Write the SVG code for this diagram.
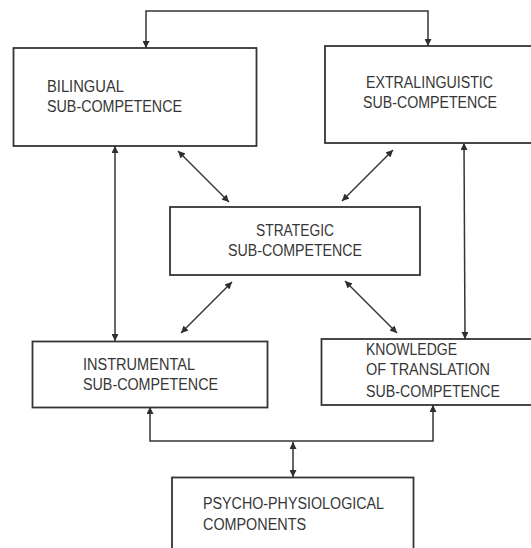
<svg xmlns="http://www.w3.org/2000/svg" width="531" height="548" viewBox="0 0 531 548">
  <style>
    .box { fill: #ffffff; stroke: #353535; stroke-width: 1.8; }
    .lbl { font-family: "Liberation Sans", Arial, sans-serif; font-size: 16px; fill: #363636; }
    .wire { fill: none; stroke: #353535; stroke-width: 1.5; }
  </style>
  <defs>
    <marker id="tip" viewBox="0 0 10 10" refX="10" refY="5" markerWidth="8" markerHeight="7" markerUnits="userSpaceOnUse" orient="auto-start-reverse">
      <path d="M0,0 L10,5 L0,10 z" fill="#2e2e2e"/>
    </marker>
  </defs>
  <rect width="531" height="548" fill="#ffffff"/>

  <!-- connectors -->
  <g id="connectors">
    <!-- loop over the top joining the two upper boxes -->
    <path class="wire" d="M146,48 V11 H428 V46" marker-start="url(#tip)" marker-end="url(#tip)"/>
    <!-- long verticals -->
    <line class="wire" x1="115" y1="146" x2="115" y2="341" marker-start="url(#tip)" marker-end="url(#tip)"/>
    <line class="wire" x1="464" y1="143" x2="465" y2="339" marker-start="url(#tip)" marker-end="url(#tip)"/>
    <!-- diagonals to the strategic box -->
    <line class="wire" x1="178" y1="151" x2="229" y2="202" marker-start="url(#tip)" marker-end="url(#tip)"/>
    <line class="wire" x1="393" y1="150" x2="342" y2="201" marker-start="url(#tip)" marker-end="url(#tip)"/>
    <line class="wire" x1="232" y1="282" x2="181" y2="333" marker-start="url(#tip)" marker-end="url(#tip)"/>
    <line class="wire" x1="345" y1="281" x2="397" y2="333" marker-start="url(#tip)" marker-end="url(#tip)"/>
    <!-- lower fork to the psycho-physiological box -->
    <path class="wire" d="M150,407 V441 H433 V405" marker-start="url(#tip)" marker-end="url(#tip)"/>
    <line class="wire" x1="293" y1="442" x2="293" y2="477" marker-start="url(#tip)" marker-end="url(#tip)"/>
  </g>

  <g id="bilingual">
    <rect class="box" x="13.5" y="48" width="243" height="98"/>
    <text class="lbl" x="47" y="92" textLength="77" lengthAdjust="spacingAndGlyphs">BILINGUAL</text>
    <text class="lbl" x="47" y="112" textLength="135" lengthAdjust="spacingAndGlyphs">SUB-COMPETENCE</text>
  </g>

  <g id="extralinguistic">
    <rect class="box" x="325" y="46" width="212" height="97"/>
    <text class="lbl" x="366" y="87.5" textLength="127" lengthAdjust="spacingAndGlyphs">EXTRALINGUISTIC</text>
    <text class="lbl" x="363" y="108" textLength="134" lengthAdjust="spacingAndGlyphs">SUB-COMPETENCE</text>
  </g>

  <g id="strategic">
    <rect class="box" x="170" y="207" width="250" height="68"/>
    <text class="lbl" x="256" y="236" textLength="78" lengthAdjust="spacingAndGlyphs">STRATEGIC</text>
    <text class="lbl" x="228" y="256" textLength="134" lengthAdjust="spacingAndGlyphs">SUB-COMPETENCE</text>
  </g>

  <g id="instrumental">
    <rect class="box" x="32.5" y="341.5" width="235" height="66"/>
    <text class="lbl" x="83" y="369.5" textLength="112" lengthAdjust="spacingAndGlyphs">INSTRUMENTAL</text>
    <text class="lbl" x="83" y="389.5" textLength="135" lengthAdjust="spacingAndGlyphs">SUB-COMPETENCE</text>
  </g>

  <g id="knowledge">
    <rect class="box" x="321.5" y="339" width="215" height="66"/>
    <text class="lbl" x="366" y="355" textLength="91" lengthAdjust="spacingAndGlyphs">KNOWLEDGE</text>
    <text class="lbl" x="366" y="375" textLength="124" lengthAdjust="spacingAndGlyphs">OF TRANSLATION</text>
    <text class="lbl" x="366" y="397" textLength="134" lengthAdjust="spacingAndGlyphs">SUB-COMPETENCE</text>
  </g>

  <g id="psycho-physiological">
    <rect class="box" x="172" y="477.5" width="241.5" height="80"/>
    <text class="lbl" x="203" y="508.5" textLength="181" lengthAdjust="spacingAndGlyphs">PSYCHO-PHYSIOLOGICAL</text>
    <text class="lbl" x="203" y="530" textLength="103" lengthAdjust="spacingAndGlyphs">COMPONENTS</text>
  </g>
</svg>
